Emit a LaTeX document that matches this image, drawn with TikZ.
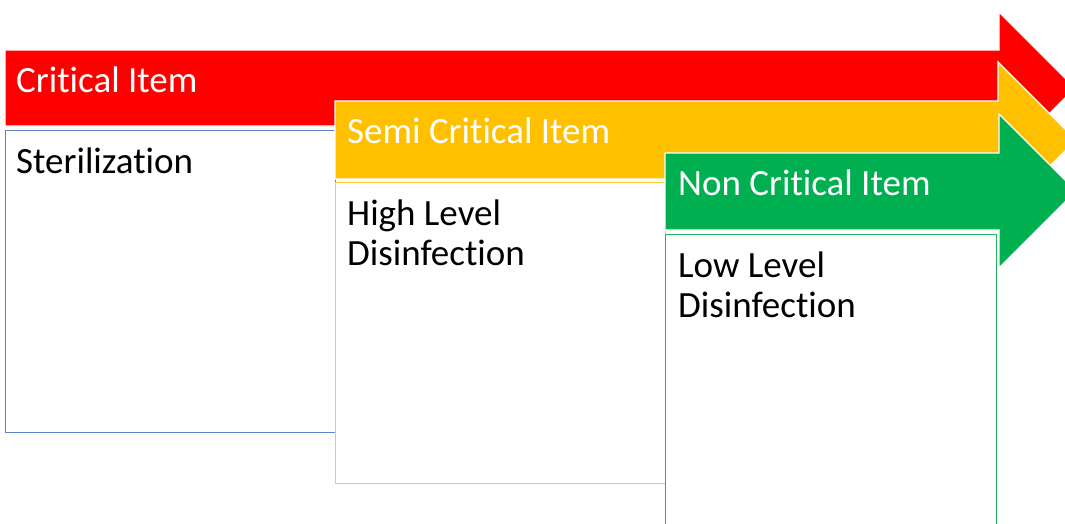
\documentclass[tikz,border=0pt]{standalone}
\usepackage{fontspec}
\setmainfont[RawFeature={-liga}]{Carlito}
\usepackage{xcolor}
\usetikzlibrary{positioning}

\definecolor{critred}{HTML}{FF0000}
\definecolor{semiyellow}{HTML}{FFC000}
\definecolor{nongreen}{HTML}{00B050}
\definecolor{boxblue}{HTML}{5F82CC}
\definecolor{boxyellow}{HTML}{FFC83A}
\definecolor{boxgreen}{HTML}{22B35E}

\begin{document}
\begin{tikzpicture}[x=1pt,y=-1pt,
    band/.style={draw=white,line width=1.2pt},
    itembox/.style={draw=#1,fill=white,line width=1.3pt,inner sep=0pt,anchor=north west},
    bandtext/.style={text=white,inner sep=0pt,anchor=base west,font=\fontsize{37}{40}\selectfont},
    boxtext/.style={text=black,inner sep=0pt,anchor=base west,align=left,font=\fontsize{37}{40}\selectfont}]

    \clip (0,0) rectangle (1065,523);

    % critical item
    \filldraw[band,fill=critred] (5,50) -- (999,50) -- (999,12) -- (1075,88)
        -- (999,164) -- (999,126) -- (5,126) -- cycle;
    \node[bandtext] (crit) at (16,92) {Critical Item};
    \node[itembox=boxblue,minimum width=330pt,minimum height=302pt]
        (sterbox) at (5,130) {};
    \node[boxtext] (ster) at (16,173) {Sterilization};

    % semi critical item
    \filldraw[band,fill=semiyellow] (335,101) -- (998,101) -- (998,62) -- (1076,140)
        -- (998,218) -- (998,179) -- (335,179) -- cycle;
    \node[bandtext] (semi) at (347,143) {Semi Critical Item};
    \node[itembox=boxyellow,minimum width=330pt,minimum height=301pt]
        (highbox) at (335,182) {};
    \node[boxtext] (high) at (347,265) {High Level\\Disinfection};

    % non critical item
    \filldraw[band,fill=nongreen] (665,153) -- (999,153) -- (999,114) -- (1076,191)
        -- (999,268) -- (999,230) -- (665,230) -- cycle;
    \node[bandtext] (non) at (678,195) {Non Critical Item};
    \node[itembox=boxgreen,minimum width=331pt,minimum height=320pt]
        (lowbox) at (665,234) {};
    \node[boxtext] (low) at (678,317) {Low Level\\Disinfection};
\end{tikzpicture}
\end{document}
